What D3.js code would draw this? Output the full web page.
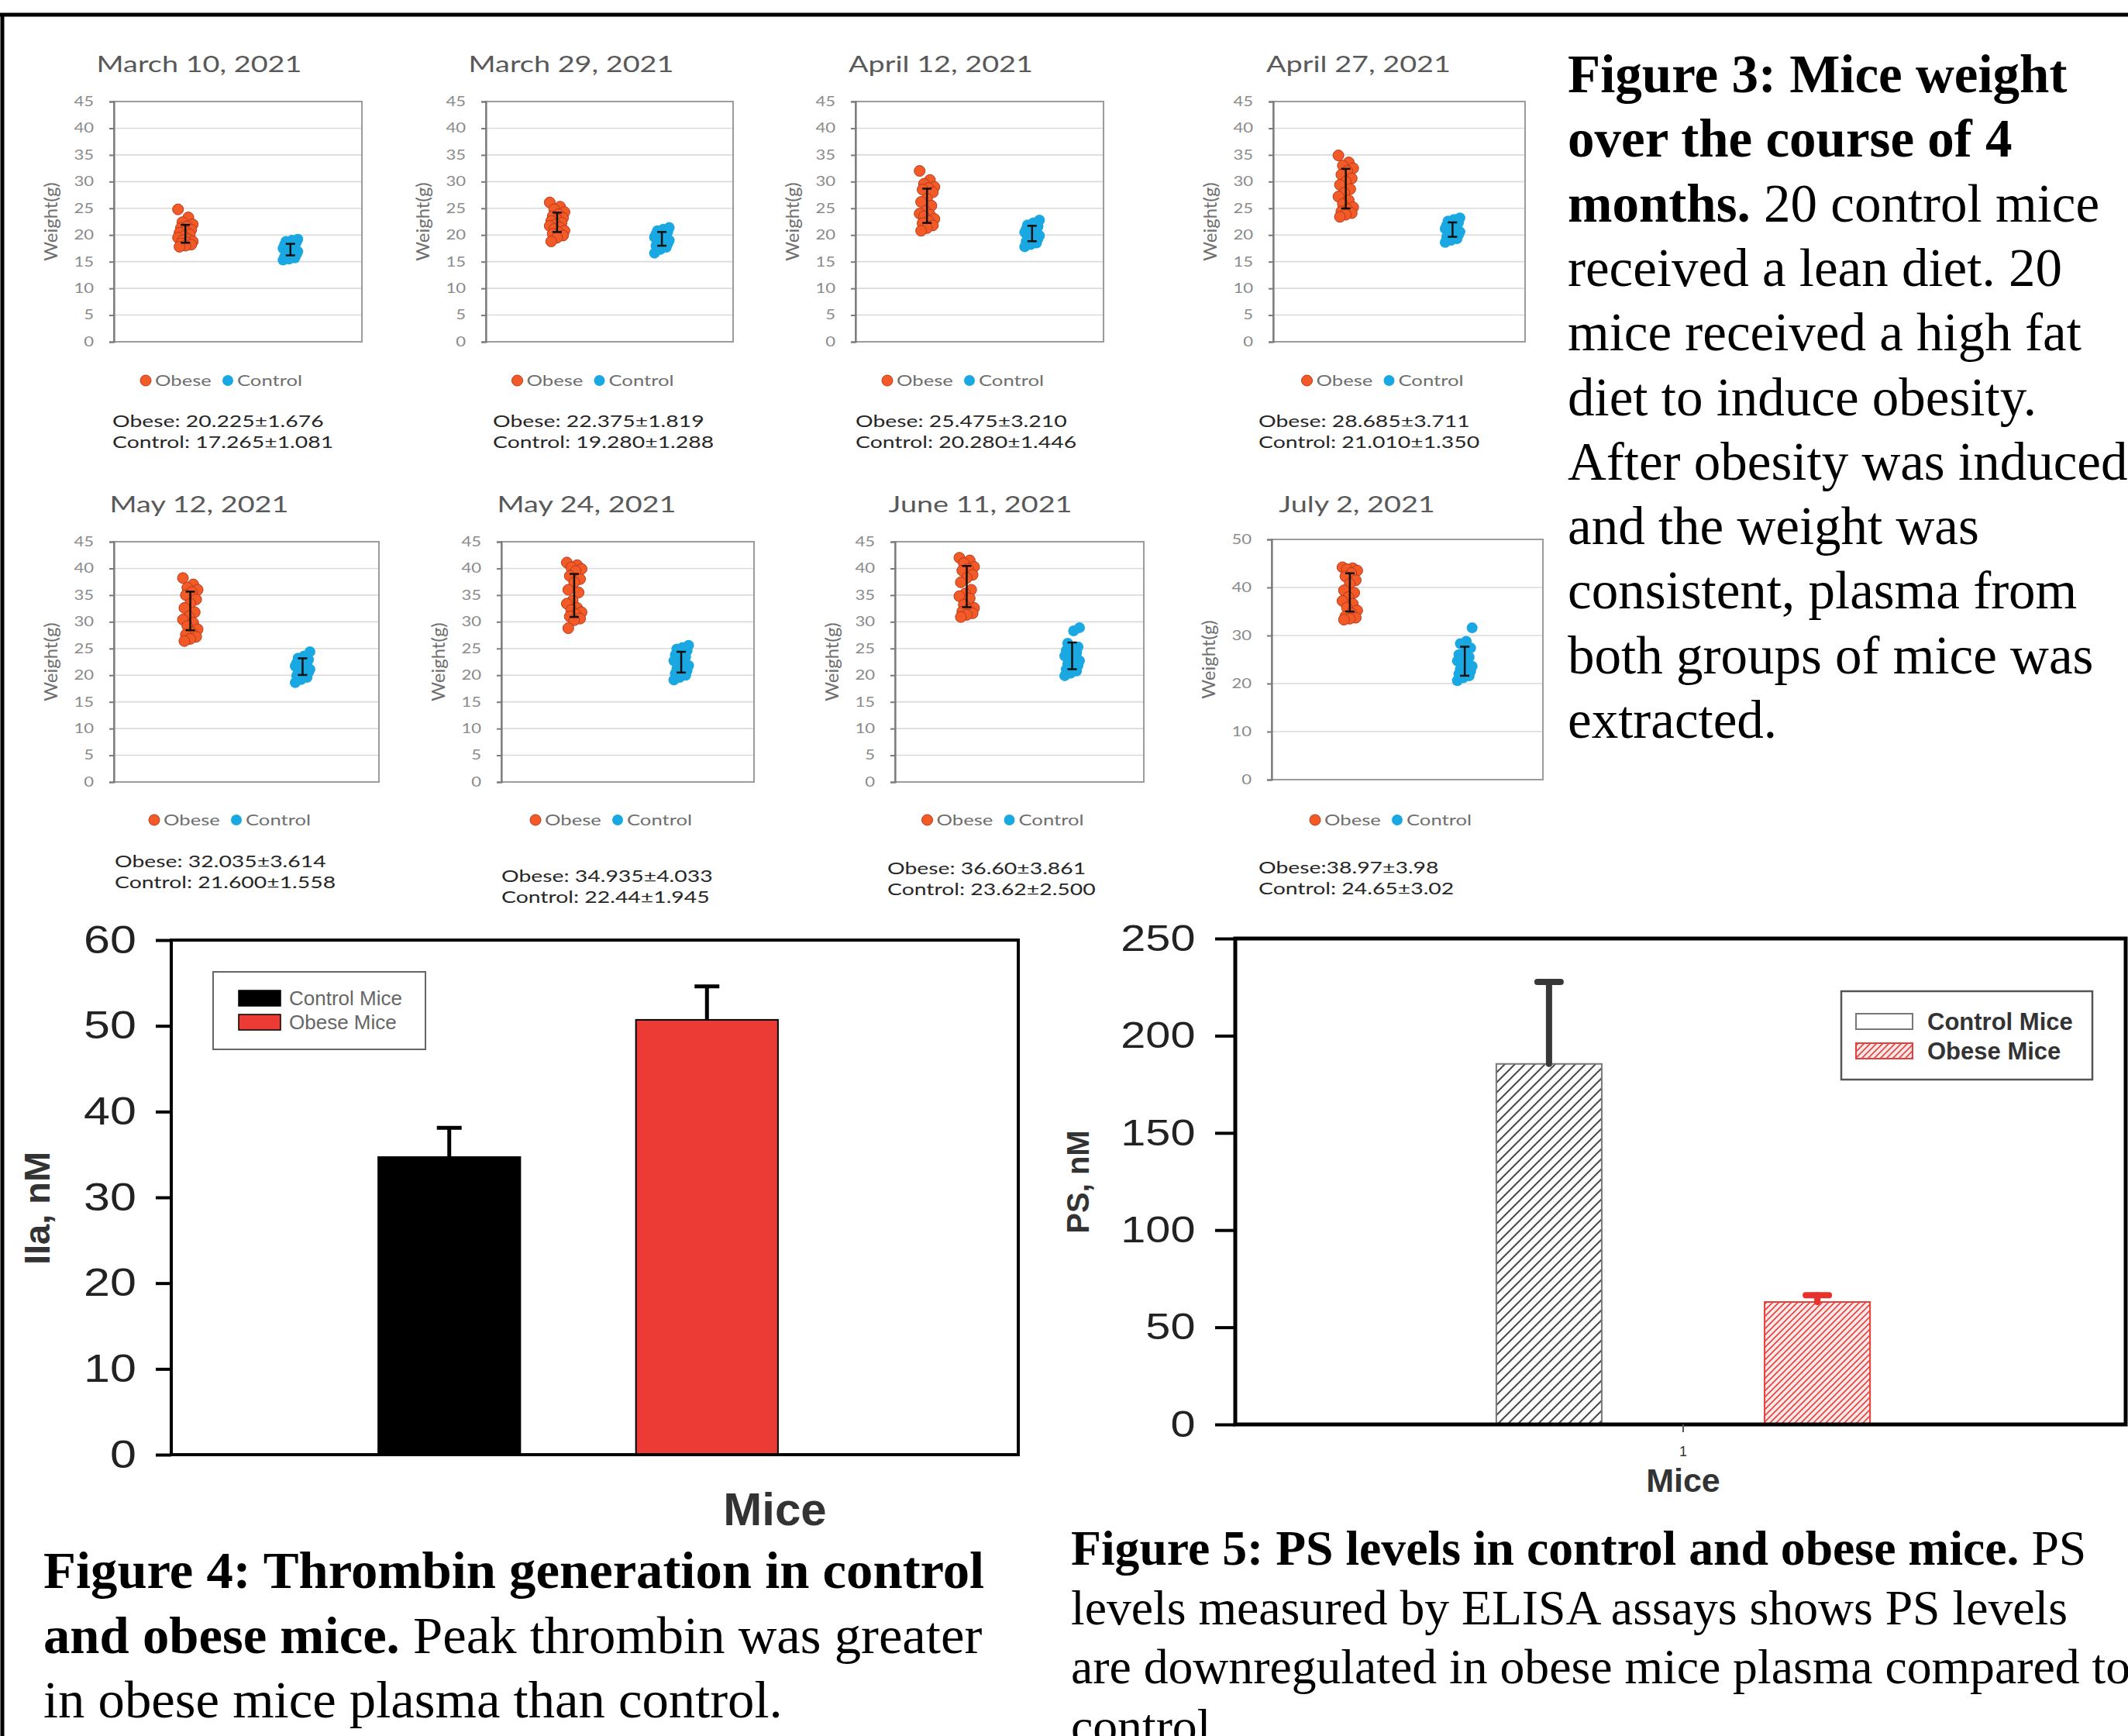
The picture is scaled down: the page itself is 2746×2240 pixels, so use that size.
<!DOCTYPE html>
<html>
<head>
<meta charset="utf-8">
<script src="https://cdn.jsdelivr.net/npm/d3@7"></script>
<style>
html, body { margin: 0; padding: 0; background: #fff; }
svg { display: block; }
</style>
</head>
<body>
<script>
const W = 2746, H = 2240;

// ---------- Figure 3 data: mouse weights per date
const panelDates = ["March 10, 2021", "March 29, 2021", "April 12, 2021", "April 27, 2021",
                    "May 12, 2021", "May 24, 2021", "June 11, 2021", "July 2, 2021"];
const groups = ["Obese", "Control"];
const obeseMean = [20.225, 22.375, 25.475, 28.685, 32.035, 34.935, 36.60, 38.97];
const obeseSD   = [1.676, 1.819, 3.210, 3.711, 3.614, 4.033, 3.861, 3.98];
const controlMean = [17.265, 19.280, 20.280, 21.010, 21.600, 22.44, 23.62, 24.65];
const controlSD   = [1.081, 1.288, 1.446, 1.350, 1.558, 1.945, 2.500, 3.02];
const yMax  = [45, 45, 45, 45, 45, 45, 45, 50];
const yStep = [5, 5, 5, 5, 5, 5, 5, 10];
const statsObese = ["Obese: 20.225±1.676", "Obese: 22.375±1.819", "Obese: 25.475±3.210", "Obese: 28.685±3.711",
                    "Obese: 32.035±3.614", "Obese: 34.935±4.033", "Obese: 36.60±3.861", "Obese:38.97±3.98"];
const statsControl = ["Control: 17.265±1.081", "Control: 19.280±1.288", "Control: 20.280±1.446", "Control: 21.010±1.350",
                      "Control: 21.600±1.558", "Control: 22.44±1.945", "Control: 23.62±2.500", "Control: 24.65±3.02"];

// individual weights (g)
const obeseWeights = [
  [24.8, 23.3, 22.4, 22.0, 21.6, 21.3, 21.0, 20.7, 20.4, 20.1, 19.8, 19.5, 19.2, 19.0, 18.8, 18.6, 18.4, 18.2, 18.0, 17.8],
  [26.1, 25.3, 24.8, 24.3, 23.9, 23.5, 23.2, 22.9, 22.6, 22.3, 22.0, 21.7, 21.4, 21.1, 20.8, 20.5, 20.2, 19.9, 19.5, 18.8],
  [32.0, 30.3, 29.6, 29.0, 28.8, 28.5, 28.0, 26.8, 26.2, 25.5, 24.5, 24.0, 23.8, 23.5, 23.0, 22.6, 22.2, 21.8, 21.3, 20.8],
  [34.9, 33.6, 33.0, 32.5, 32.0, 31.3, 30.6, 30.0, 29.4, 28.6, 27.9, 27.2, 26.5, 25.8, 25.2, 24.8, 24.4, 24.1, 23.8, 23.4],
  [38.2, 37.0, 36.4, 36.0, 35.6, 35.0, 34.2, 33.4, 32.6, 31.8, 31.0, 30.4, 29.8, 29.2, 28.6, 28.0, 27.6, 27.2, 26.8, 26.4],
  [41.1, 40.6, 40.2, 39.9, 39.5, 38.6, 38.0, 37.4, 36.0, 35.5, 34.0, 33.4, 32.6, 32.2, 31.8, 31.4, 31.0, 30.6, 30.3, 28.8],
  [42.0, 41.5, 41.0, 40.3, 39.9, 39.6, 38.8, 38.2, 37.4, 36.0, 35.3, 34.8, 34.4, 33.2, 32.6, 32.2, 31.9, 31.6, 31.3, 30.9],
  [44.2, 44.0, 43.8, 43.5, 43.0, 42.3, 41.5, 40.8, 39.4, 38.9, 38.0, 37.2, 36.6, 35.8, 35.2, 34.6, 34.0, 33.7, 33.5, 33.3]
];
const controlWeights = [
  [19.2, 19.0, 18.8, 18.6, 18.4, 18.2, 18.0, 17.8, 17.5, 17.3, 17.1, 16.9, 16.7, 16.5, 16.3, 16.1, 15.9, 15.7, 15.5, 15.3],
  [21.4, 21.1, 20.8, 20.6, 20.4, 20.2, 20.0, 19.8, 19.6, 19.4, 19.2, 19.0, 18.8, 18.6, 18.4, 18.2, 18.0, 17.7, 17.3, 16.6],
  [22.8, 22.3, 21.9, 21.6, 21.3, 21.1, 20.9, 20.7, 20.5, 20.3, 20.1, 19.9, 19.7, 19.5, 19.3, 19.1, 18.8, 18.5, 18.2, 17.8],
  [23.2, 22.9, 22.6, 22.3, 22.0, 21.8, 21.6, 21.4, 21.2, 21.0, 20.8, 20.6, 20.4, 20.2, 20.0, 19.8, 19.6, 19.3, 19.0, 18.6],
  [24.4, 23.6, 23.2, 22.9, 22.6, 22.3, 22.1, 21.9, 21.7, 21.5, 21.3, 21.1, 20.9, 20.7, 20.5, 20.2, 19.9, 19.6, 19.2, 18.6],
  [25.6, 25.2, 24.9, 24.6, 24.2, 23.8, 23.4, 23.0, 22.7, 22.4, 22.1, 21.8, 21.5, 21.2, 20.9, 20.6, 20.3, 20.0, 19.6, 19.1],
  [28.9, 28.3, 26.0, 25.3, 24.9, 24.6, 24.2, 23.9, 23.6, 23.3, 23.0, 22.7, 22.4, 22.1, 21.8, 21.5, 21.1, 20.8, 20.4, 19.9],
  [31.6, 28.8, 28.3, 27.4, 26.6, 26.0, 25.5, 25.1, 24.7, 24.3, 24.0, 23.6, 23.3, 23.0, 22.6, 22.3, 22.0, 21.6, 21.2, 20.6]
];

// ---------- Figure 4 data: peak thrombin
const thrombinGroups = ["Control Mice", "Obese Mice"];
const thrombinPeak = [34.7, 50.7];
const thrombinErr  = [3.4, 3.9];
const thrombinTicks = [0, 10, 20, 30, 40, 50, 60];

// ---------- Figure 5 data: PS levels
const psGroups = ["Control Mice", "Obese Mice"];
const psLevel = [185.5, 63.0];
const psErr   = [42.2, 3.5];
const psTicks = [0, 50, 100, 150, 200, 250];

// ---------- captions
const caption3 = [
  [["Figure 3: Mice weight", true]],
  [["over the course of 4", true]],
  [["months.", true], [" 20 control mice", false]],
  [["received a lean diet. 20", false]],
  [["mice received a high fat", false]],
  [["diet to induce obesity.", false]],
  [["After obesity was induced", false]],
  [["and the weight was", false]],
  [["consistent, plasma from", false]],
  [["both groups of mice was", false]],
  [["extracted.", false]]
];
const caption4 = [
  [["Figure 4: Thrombin generation in control", true]],
  [["and obese mice.", true], [" Peak thrombin was greater", false]],
  [["in obese mice plasma than control.", false]]
];
const caption5 = [
  [["Figure 5: PS levels in control and obese mice.", true], [" PS", false]],
  [["levels measured by ELISA assays shows PS levels", false]],
  [["are downregulated in obese mice plasma compared to", false]],
  [["control", false]]
];

// layout of the eight small panels (plot box + stats position)
const panelBoxes = [
  { l: 147,  r: 467,  t: 131, b: 441,  sx: 145,  sy: 543 },
  { l: 627,  r: 946,  t: 131, b: 441,  sx: 636,  sy: 543 },
  { l: 1104, r: 1424, t: 131, b: 441,  sx: 1104, sy: 543 },
  { l: 1643, r: 1968, t: 131, b: 441,  sx: 1624, sy: 543 },
  { l: 147,  r: 489,  t: 699, b: 1009, sx: 148,  sy: 1111 },
  { l: 647,  r: 973,  t: 699, b: 1009, sx: 647,  sy: 1130 },
  { l: 1155, r: 1476, t: 699, b: 1009, sx: 1145, sy: 1120 },
  { l: 1641, r: 1991, t: 696, b: 1006, sx: 1624, sy: 1119 }
];

const svg = d3.select("body").append("svg")
  .attr("width", W).attr("height", H)
  .attr("viewBox", `0 0 ${W} ${H}`);

svg.append("rect").attr("width", W).attr("height", H).attr("fill", "#fff");

// patterns for the hatched bars
const defs = svg.append("defs");
const pGray = defs.append("pattern").attr("id", "hatchGray")
  .attr("patternUnits", "userSpaceOnUse").attr("width", 13).attr("height", 13);
pGray.append("rect").attr("width", 13).attr("height", 13).attr("fill", "#fff");
pGray.append("path").attr("d", "M-3,3 L3,-3 M0,13 L13,0 M10,16 L16,10")
  .attr("stroke", "#4a4a4a").attr("stroke-width", 2);
const pRed = defs.append("pattern").attr("id", "hatchRed")
  .attr("patternUnits", "userSpaceOnUse").attr("width", 8).attr("height", 8);
pRed.append("rect").attr("width", 8).attr("height", 8).attr("fill", "#fde9e9");
pRed.append("path").attr("d", "M-2,2 L2,-2 M0,8 L8,0 M6,10 L10,6")
  .attr("stroke", "#e8423f").attr("stroke-width", 1.6);

// outer frame (top and left rules)
svg.append("line").attr("x1", 0).attr("x2", W).attr("y1", 19).attr("y2", 19)
  .attr("stroke", "#000").attr("stroke-width", 5);
svg.append("line").attr("x1", 3).attr("x2", 3).attr("y1", 17).attr("y2", H)
  .attr("stroke", "#000").attr("stroke-width", 5);

// small text in figure 3 is horizontally stretched in the source
const SX = 1.35;
const sansSmall = "Lato, 'Open Sans', sans-serif";
function stretchText(parent, x, y, txt, size, fill, anchor = "start") {
  return parent.append("text")
    .attr("transform", `translate(${x},${y}) scale(${SX},1)`)
    .attr("text-anchor", anchor)
    .attr("dominant-baseline", "central")
    .attr("font-family", sansSmall)
    .attr("font-size", size)
    .attr("fill", fill)
    .text(txt);
}

const orange = "#f25b28", orangeEdge = "#b9391a", blue = "#19a8e2";
const jitter = i => ((i * 7) % 11 - 5) * 1.9;

// ---------- Figure 3: eight scatter panels
panelDates.forEach((date, i) => {
  const bx = panelBoxes[i];
  const g = svg.append("g");
  const y = d3.scaleLinear().domain([0, yMax[i]]).range([bx.b, bx.t]);
  const x = d3.scalePoint().domain(groups).range([bx.l, bx.r]).padding(0.68);
  const ticks = d3.range(0, yMax[i] + 1, yStep[i]);

  // gridlines
  g.selectAll("line.grid").data(ticks).join("line")
    .attr("class", "grid")
    .attr("x1", bx.l).attr("x2", bx.r)
    .attr("y1", d => y(d)).attr("y2", d => y(d))
    .attr("stroke", "#dadada").attr("stroke-width", 1.6);

  // plot area border
  g.append("rect")
    .attr("x", bx.l).attr("y", bx.t)
    .attr("width", bx.r - bx.l).attr("height", bx.b - bx.t)
    .attr("fill", "none").attr("stroke", "#9b9b9b").attr("stroke-width", 2);

  const ax = g.append("g").attr("transform", `translate(${bx.l},0)`)
    .call(d3.axisLeft(y).tickValues(ticks).tickSize(6).tickPadding(14));
  ax.select(".domain").attr("stroke", "#7a7a7a").attr("stroke-width", 2.2);
  ax.selectAll(".tick line").attr("stroke", "#7a7a7a").attr("stroke-width", 2);
  ax.selectAll(".tick text")
    .attr("transform", "scale(1.3,1)")
    .attr("font-family", sansSmall).attr("font-size", 17).attr("fill", "#8a8a8a");

  // title
  stretchText(g, bx.l + 110, i < 4 ? 82 : 650, date, 28, "#595959", "middle");

  // y label
  g.append("text")
    .attr("transform", `translate(${bx.l - 83},${(bx.t + bx.b) / 2}) rotate(-90)`)
    .attr("text-anchor", "middle").attr("dominant-baseline", "central")
    .attr("font-family", sansSmall).attr("font-size", 24).attr("fill", "#6e6e6e")
    .text("Weight(g)");

  // points
  g.selectAll("circle.ob").data(obeseWeights[i]).join("circle")
    .attr("class", "ob")
    .attr("cx", (d, j) => x("Obese") + jitter(j))
    .attr("cy", d => y(d)).attr("r", 7)
    .attr("fill", orange).attr("stroke", orangeEdge).attr("stroke-width", 1);
  g.selectAll("circle.ct").data(controlWeights[i]).join("circle")
    .attr("class", "ct")
    .attr("cx", (d, j) => x("Control") + jitter(j + 3))
    .attr("cy", d => y(d)).attr("r", 7)
    .attr("fill", blue);

  // mean ± SD error bars
  const bars = [
    { k: "Obese", m: obeseMean[i], s: obeseSD[i] },
    { k: "Control", m: controlMean[i], s: controlSD[i] }
  ];
  bars.forEach(b => {
    const cx = x(b.k);
    const e = g.append("g").attr("stroke", "#111").attr("stroke-width", 2.5);
    e.append("line").attr("x1", cx).attr("x2", cx).attr("y1", y(b.m - b.s)).attr("y2", y(b.m + b.s));
    e.append("line").attr("x1", cx - 6).attr("x2", cx + 6).attr("y1", y(b.m - b.s)).attr("y2", y(b.m - b.s));
    e.append("line").attr("x1", cx - 6).attr("x2", cx + 6).attr("y1", y(b.m + b.s)).attr("y2", y(b.m + b.s));
  });

  // legend
  const c = (bx.l + bx.r) / 2;
  const ly = i < 4 ? 491 : 1058;
  g.append("circle").attr("cx", c - 119).attr("cy", ly).attr("r", 7)
    .attr("fill", orange).attr("stroke", orangeEdge);
  stretchText(g, c - 107, ly, groups[0], 19, "#6e6e6e");
  g.append("circle").attr("cx", c - 13).attr("cy", ly).attr("r", 7).attr("fill", blue);
  stretchText(g, c - 1, ly, groups[1], 19, "#6e6e6e");

  // summary text
  stretchText(g, bx.sx, bx.sy, statsObese[i], 21, "#262626");
  stretchText(g, bx.sx, bx.sy + 27, statsControl[i], 21, "#262626");
});

// ---------- captions
function caption(lines, x, y0, step, size) {
  const t = svg.append("g");
  lines.forEach((parts, k) => {
    const tx = t.append("text")
      .attr("x", x).attr("y", y0 + k * step)
      .attr("font-family", "'Liberation Serif', 'Times New Roman', serif")
      .attr("font-size", size).attr("fill", "#000");
    parts.forEach(([s, bold]) => {
      tx.append("tspan").attr("font-weight", bold ? "bold" : "normal").text(s);
    });
  });
}
caption(caption3, 2023, 119, 83.3, 69);
caption(caption4, 56, 2049, 83.5, 68.7);
caption(caption5, 1382, 2019, 76.7, 63.7);

// ---------- Figure 4: thrombin bars
const f4 = { l: 221, r: 1314, t: 1213, b: 1877 };
const y4 = d3.scaleLinear().domain([0, 60]).range([f4.b, f4.t]);
const x4 = d3.scaleBand().domain(thrombinGroups).range([395, 1097])
  .paddingInner(0.449).paddingOuter(0.28);
const g4 = svg.append("g");
const fill4 = ["#000", "#ec3a35"];

g4.selectAll("rect.bar").data(thrombinPeak).join("rect")
  .attr("class", "bar")
  .attr("x", (d, i) => x4(thrombinGroups[i]))
  .attr("y", d => y4(d))
  .attr("width", x4.bandwidth())
  .attr("height", d => y4(0) - y4(d))
  .attr("fill", (d, i) => fill4[i])
  .attr("stroke", "#000").attr("stroke-width", 2);

thrombinPeak.forEach((v, i) => {
  const cx = x4(thrombinGroups[i]) + x4.bandwidth() / 2;
  const e = g4.append("g").attr("stroke", "#000").attr("stroke-width", 5);
  e.append("line").attr("x1", cx).attr("x2", cx).attr("y1", y4(v)).attr("y2", y4(v + thrombinErr[i]));
  e.append("line").attr("x1", cx - 16).attr("x2", cx + 16)
    .attr("y1", y4(v + thrombinErr[i])).attr("y2", y4(v + thrombinErr[i]));
});

g4.append("rect").attr("x", f4.l).attr("y", f4.t)
  .attr("width", f4.r - f4.l).attr("height", f4.b - f4.t)
  .attr("fill", "none").attr("stroke", "#000").attr("stroke-width", 4);

const ax4 = g4.append("g").attr("transform", `translate(${f4.l},0)`)
  .call(d3.axisLeft(y4).tickValues(thrombinTicks).tickSize(20).tickPadding(17));
ax4.select(".domain").remove();
ax4.selectAll(".tick line").attr("stroke", "#000").attr("stroke-width", 4);
ax4.selectAll(".tick text")
  .attr("transform", "scale(1.22,1)")
  .attr("font-family", "'Liberation Sans', Arial, sans-serif")
  .attr("font-size", 50).attr("fill", "#222");

g4.append("text")
  .attr("transform", `translate(47,1559) rotate(-90)`)
  .attr("text-anchor", "middle").attr("dominant-baseline", "central")
  .attr("font-family", "'Liberation Sans', Arial, sans-serif")
  .attr("font-weight", "bold").attr("font-size", 47).attr("fill", "#333")
  .text("IIa, nM");
g4.append("text")
  .attr("x", 1000).attr("y", 1947)
  .attr("text-anchor", "middle").attr("dominant-baseline", "central")
  .attr("font-family", "'Liberation Sans', Arial, sans-serif")
  .attr("font-weight", "bold").attr("font-size", 60).attr("fill", "#333")
  .text("Mice");

// legend fig 4
g4.append("rect").attr("x", 275).attr("y", 1254).attr("width", 274).attr("height", 100)
  .attr("fill", "#fff").attr("stroke", "#666").attr("stroke-width", 2);
thrombinGroups.forEach((name, i) => {
  const yy = 1288 + i * 31;
  g4.append("rect").attr("x", 308).attr("y", yy - 10).attr("width", 54).attr("height", 20)
    .attr("fill", fill4[i]).attr("stroke", "#000").attr("stroke-width", 1.5);
  g4.append("text").attr("x", 373).attr("y", yy)
    .attr("dominant-baseline", "central")
    .attr("font-family", "'Liberation Sans', Arial, sans-serif")
    .attr("font-size", 26).attr("fill", "#666")
    .text(name);
});

// ---------- Figure 5: PS bars
const f5 = { l: 1594, r: 2743, t: 1211, b: 1838 };
const y5 = d3.scaleLinear().domain([0, 250]).range([f5.b, f5.t]);
const x5 = d3.scaleBand().domain(psGroups).range([1827, 2517])
  .paddingInner(0.607).paddingOuter(0.3);
const g5 = svg.append("g");
const fill5 = ["url(#hatchGray)", "url(#hatchRed)"];
const edge5 = ["#777", "#e5403c"];
const err5 = ["#383838", "#e8302c"];

g5.selectAll("rect.bar").data(psLevel).join("rect")
  .attr("class", "bar")
  .attr("x", (d, i) => x5(psGroups[i]))
  .attr("y", d => y5(d))
  .attr("width", x5.bandwidth())
  .attr("height", d => y5(0) - y5(d))
  .attr("fill", (d, i) => fill5[i])
  .attr("stroke", (d, i) => edge5[i]).attr("stroke-width", 2);

psLevel.forEach((v, i) => {
  const cx = x5(psGroups[i]) + x5.bandwidth() / 2;
  const e = g5.append("g").attr("stroke", err5[i]).attr("stroke-width", 8)
    .attr("stroke-linecap", "round");
  e.append("line").attr("x1", cx).attr("x2", cx).attr("y1", y5(v)).attr("y2", y5(v + psErr[i]));
  e.append("line").attr("x1", cx - 15).attr("x2", cx + 15)
    .attr("y1", y5(v + psErr[i])).attr("y2", y5(v + psErr[i]));
});

g5.append("rect").attr("x", f5.l).attr("y", f5.t)
  .attr("width", f5.r - f5.l).attr("height", f5.b - f5.t)
  .attr("fill", "none").attr("stroke", "#000").attr("stroke-width", 5);

const ax5 = g5.append("g").attr("transform", `translate(${f5.l},0)`)
  .call(d3.axisLeft(y5).tickValues(psTicks).tickSize(26).tickPadding(17));
ax5.select(".domain").remove();
ax5.selectAll(".tick line").attr("stroke", "#000").attr("stroke-width", 4);
ax5.selectAll(".tick text")
  .attr("transform", "scale(1.2,1)")
  .attr("font-family", "'Liberation Sans', Arial, sans-serif")
  .attr("font-size", 48).attr("fill", "#222");

// single category tick "1"
const midX = (x5(psGroups[0]) + x5(psGroups[1]) + x5.bandwidth()) / 2;
g5.append("line").attr("x1", midX).attr("x2", midX).attr("y1", f5.b).attr("y2", f5.b + 10)
  .attr("stroke", "#555").attr("stroke-width", 2);
g5.append("text").attr("x", midX).attr("y", 1873)
  .attr("text-anchor", "middle").attr("dominant-baseline", "central")
  .attr("font-family", "'Liberation Sans', Arial, sans-serif")
  .attr("font-size", 18).attr("fill", "#333").text("1");
g5.append("text").attr("x", midX).attr("y", 1910)
  .attr("text-anchor", "middle").attr("dominant-baseline", "central")
  .attr("font-family", "'Liberation Sans', Arial, sans-serif")
  .attr("font-weight", "bold").attr("font-size", 43).attr("fill", "#333").text("Mice");
g5.append("text")
  .attr("transform", `translate(1391,1525) rotate(-90)`)
  .attr("text-anchor", "middle").attr("dominant-baseline", "central")
  .attr("font-family", "'Liberation Sans', Arial, sans-serif")
  .attr("font-weight", "bold").attr("font-size", 40).attr("fill", "#333")
  .text("PS, nM");

// legend fig 5
g5.append("rect").attr("x", 2376).attr("y", 1279).attr("width", 324).attr("height", 114)
  .attr("fill", "#fff").attr("stroke", "#555").attr("stroke-width", 2.5);
const legFill5 = ["#fff", "url(#hatchRed)"];
psGroups.forEach((name, i) => {
  const yy = 1318 + i * 38;
  g5.append("rect").attr("x", 2395).attr("y", yy - 10).attr("width", 73).attr("height", 20)
    .attr("fill", legFill5[i]).attr("stroke", edge5[i]).attr("stroke-width", 2);
  g5.append("text").attr("x", 2487).attr("y", yy)
    .attr("dominant-baseline", "central")
    .attr("font-family", "'Liberation Sans', Arial, sans-serif")
    .attr("font-weight", "bold").attr("font-size", 31).attr("fill", "#333")
    .text(name);
});
</script>
</body>
</html>
